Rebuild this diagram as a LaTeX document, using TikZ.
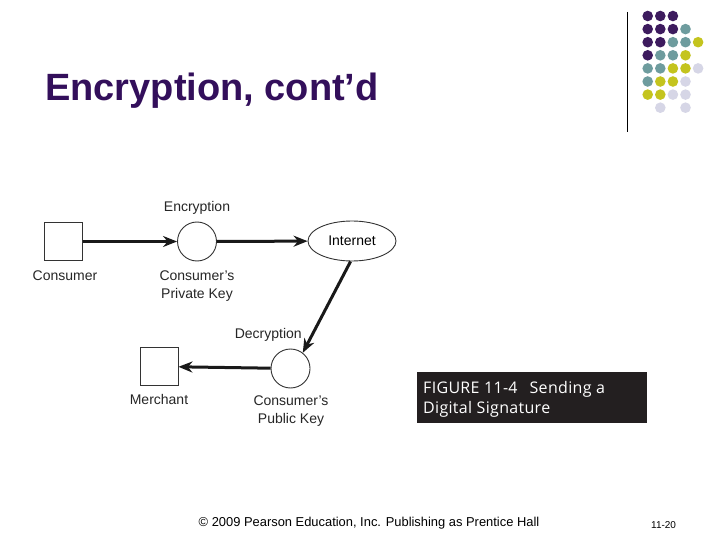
\documentclass[tikz,border=0pt]{standalone}
\usepackage{fontspec}
\setmainfont{Liberation Sans}
\newfontfamily\capfont[LetterSpace=2]{Open Sans}
\usepackage{xcolor}
\usetikzlibrary{arrows.meta,shapes.geometric}
\definecolor{titlepurple}{HTML}{330F5B}
\definecolor{dotP}{HTML}{3D1B5E}
\definecolor{dotT}{HTML}{6E9C9E}
\definecolor{dotY}{HTML}{C4C41E}
\definecolor{dotL}{HTML}{D6D6E6}
\definecolor{capbg}{HTML}{231F20}
\begin{document}
\begin{tikzpicture}[x=1pt,y=-1pt,=>Stealth,
  box/.style={draw=black!80,line width=0.9pt,minimum size=38pt,inner sep=0pt},
  keyc/.style={circle,draw=black!80,line width=0.9pt,minimum size=39pt,inner sep=0pt},
  lbl/.style={font=\fontsize{14}{18}\selectfont,text=black!85,align=center,anchor=base},
  flow/.style={line width=3pt,-{Stealth[length=14pt,width=11pt]},black!90}]
\useasboundingbox (0,0) rectangle (720,540);
\fill[white](0,0) rectangle (720,540);
\draw[line width=0.8pt](627,12)--(627,132);
\foreach \c/\r/\col in {0/0/dotP,1/0/dotP,2/0/dotP,
  0/1/dotP,1/1/dotP,2/1/dotP,3/1/dotT,
  0/2/dotP,1/2/dotP,2/2/dotT,3/2/dotT,4/2/dotY,
  0/3/dotP,1/3/dotT,2/3/dotT,3/3/dotY,
  0/4/dotT,1/4/dotT,2/4/dotY,3/4/dotY,4/4/dotL,
  0/5/dotT,1/5/dotY,2/5/dotY,3/5/dotL,
  0/6/dotY,1/6/dotY,2/6/dotL,3/6/dotL,
  1/7/dotL,3/7/dotL}
  \fill[\col](647.7+12.6*\c,16+13.1*\r) circle (5.3);
\node[anchor=base west,inner sep=0pt,font=\fontsize{38}{44}\selectfont\bfseries,text=titlepurple]
  (title) at (45,100.7) {Encryption, cont’d};
\node[box] (consumer) at (63.5,241.5) {};
\node[keyc] (enc) at (197,241.5) {};
\node[ellipse,draw=black!80,line width=0.9pt,minimum width=88pt,minimum height=40pt,inner sep=0pt,
  font=\fontsize{14}{18}\selectfont] (net) at (352,241) {Internet};
\node[keyc] (dec) at (290.5,368.5) {};
\node[box] (merchant) at (159,366.5) {};
\draw[flow](consumer)--(enc);
\draw[flow](enc)--(net);
\draw[flow](net.266)--(dec.52);
\draw[flow](dec)--(merchant);
\node[lbl] (enclbl) at (197,211.7) {Encryption};
\node[lbl] (conslbl) at (65,280) {Consumer};
\node[lbl] (privlbl) at (197,298.3) {Consumer’s\\Private Key};
\node[lbl] (declbl) at (268.3,338.3) {Decryption};
\node[lbl] (merchlbl) at (159,404) {Merchant};
\node[lbl] (publbl) at (291,423) {Consumer’s\\Public Key};
\node[fill=capbg,minimum width=230pt,minimum height=50.4pt,inner sep=0pt] (cap) at (532.3,397.5) {};
\node[anchor=base west,inner sep=0pt,text=white,font=\capfont\fontsize{16}{20}\selectfont,align=left]
  (captxt) at (423,413.3) {FIGURE 11-4\hspace{12pt}Sending a\\Digital Signature};
\node[anchor=base,inner sep=0pt,font=\fontsize{12.9}{15}\selectfont] (foot) at (369,526)
  {© 2009 Pearson Education, Inc. Publishing as Prentice Hall};
\node[anchor=base west,inner sep=0pt,font=\fontsize{10}{12}\selectfont] (slideno) at (651,528) {11-20};
\end{tikzpicture}
\end{document}
